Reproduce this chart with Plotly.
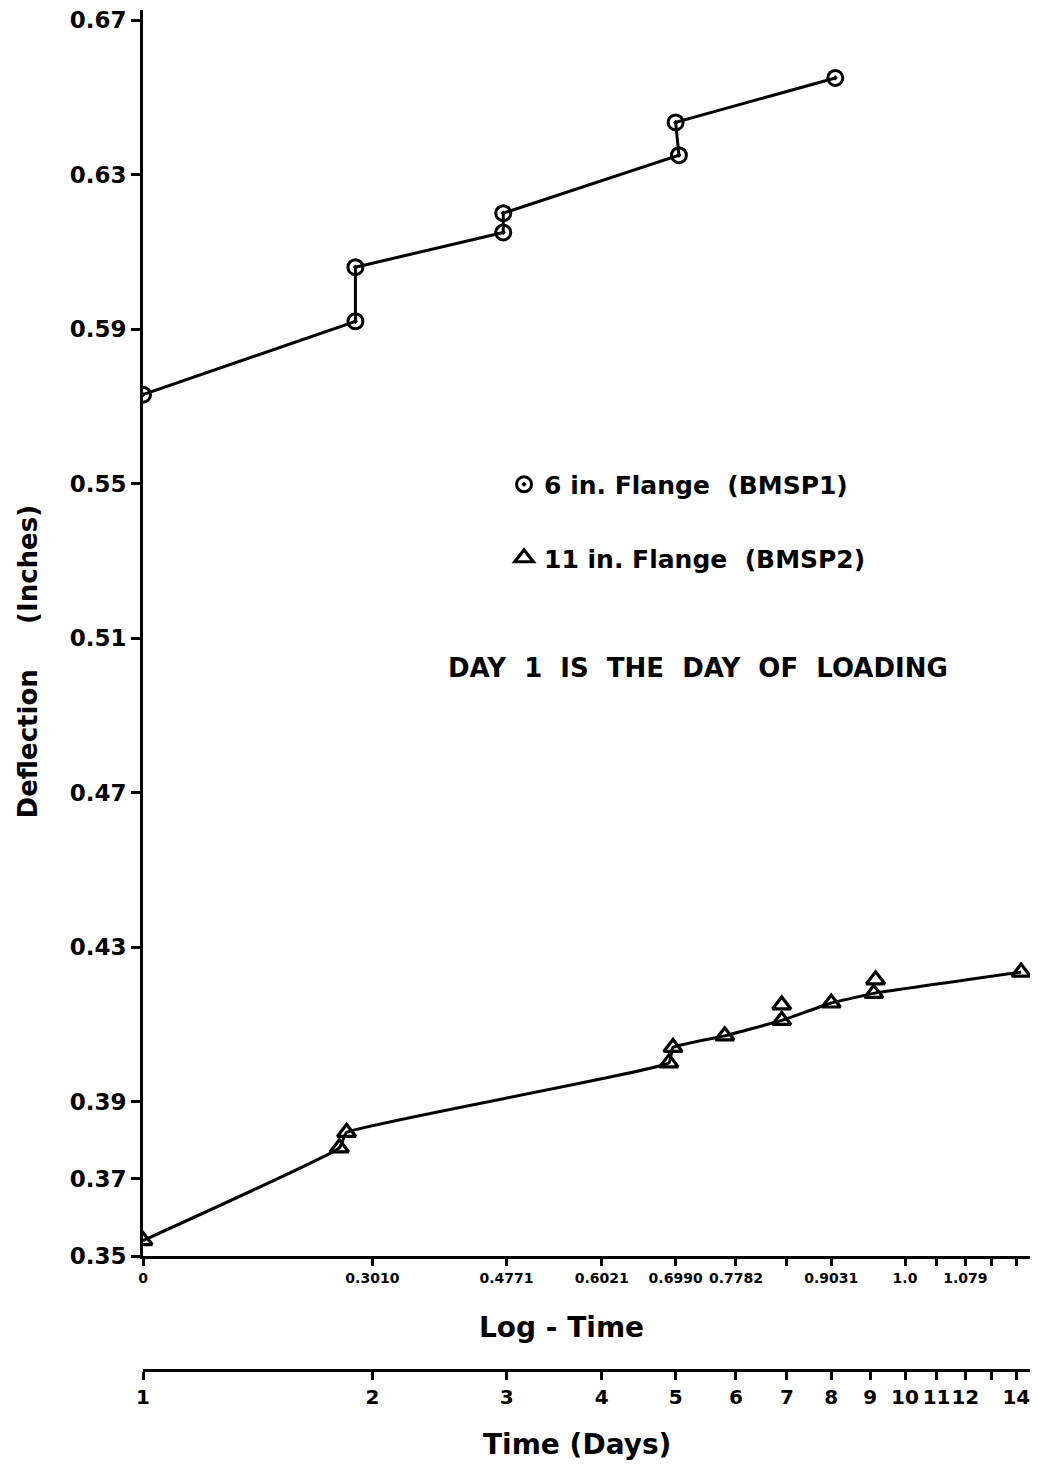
import plotly.graph_objects as go

# ---- data ----
# 6 in. Flange (BMSP1) - circles
bmsp1_days = [1.0, 1.90, 1.90, 2.97, 2.97, 5.05, 5.0, 8.1]
bmsp1_defl = [0.573, 0.592, 0.606, 0.615, 0.620, 0.635, 0.6435, 0.655]

# 11 in. Flange (BMSP2) - triangles
bmsp2_days = [1.0, 1.81, 1.85, 4.90, 4.96, 5.80, 6.89, 6.89, 8.0, 9.1, 9.15, 14.2]
bmsp2_defl = [0.354, 0.378, 0.382, 0.400, 0.404, 0.407, 0.411, 0.415, 0.4155, 0.418, 0.4215, 0.4235]
bmsp2_on_line = [1, 1, 1, 1, 1, 1, 1, 0, 1, 1, 0, 1]

# axis ticks
y_ticks = [0.35, 0.37, 0.39, 0.43, 0.47, 0.51, 0.55, 0.59, 0.63, 0.67]
log_tick_days = [1, 2, 3, 4, 5, 6, 7, 8, 10, 11, 12, 13, 14]
log_tick_text = ["0", "0.3010", "0.4771", "0.6021", "0.6990", "0.7782", "",
                 "0.9031", "1.0", "", "1.079", "", ""]
day_tick_days = [1, 2, 3, 4, 5, 6, 7, 8, 9, 10, 11, 12, 13, 14]
day_tick_text = ["1", "2", "3", "4", "5", "6", "7", "8", "9", "10", "11", "12", "", "14"]

FONT = "DejaVu Sans"
X_RANGE_LOG = [0, 1.1745]

fig = go.Figure()

# lines
fig.add_trace(go.Scatter(x=bmsp1_days, y=bmsp1_defl, mode="lines",
                         line=dict(color="black", width=3),
                         showlegend=False, hoverinfo="skip"))
l2x = [d for d, c in zip(bmsp2_days, bmsp2_on_line) if c]
l2y = [v for v, c in zip(bmsp2_defl, bmsp2_on_line) if c]
fig.add_trace(go.Scatter(x=l2x, y=l2y, mode="lines",
                         line=dict(color="black", width=3, shape="spline", smoothing=0.3),
                         showlegend=False, hoverinfo="skip"))

# markers
fig.add_trace(go.Scatter(x=bmsp1_days, y=bmsp1_defl, mode="markers",
                         name="6 in. Flange  (BMSP1)", legendgroup="a",
                         marker=dict(symbol="circle-open-dot", size=15, color="black",
                                     line=dict(width=3, color="black"))))
fig.add_trace(go.Scatter(x=bmsp2_days, y=bmsp2_defl, mode="markers",
                         name="11 in. Flange  (BMSP2)", legendgroup="b",
                         marker=dict(symbol="triangle-up-open", size=16, color="black",
                                     line=dict(width=3.2, color="black"))))

# dummy trace to attach the second (days) axis
fig.add_trace(go.Scatter(x=[day_tick_days[0], day_tick_days[-1]], y=[0.35, 0.35],
                         xaxis="x2", yaxis="y", mode="markers",
                         marker=dict(opacity=0), showlegend=False, hoverinfo="skip"))

# the page body has an 8 px margin, so the figure is 8 px smaller and shifted
fig.update_layout(
    width=1030, height=1458,
    margin=dict(l=135, r=0, t=2, b=96, autoexpand=False),
    plot_bgcolor="white", paper_bgcolor="white",
    font=dict(family=FONT, color="black", weight="bold"),
    showlegend=True,
    legend=dict(x=0.4034, y=0.668, xanchor="left", yanchor="top",
                font=dict(size=25, family=FONT, weight="bold"),
                traceorder="grouped", tracegroupgap=38,
                bgcolor="rgba(0,0,0,0)", itemwidth=30),
    xaxis=dict(type="log", range=X_RANGE_LOG, showgrid=False, zeroline=False,
               automargin=False, tickangle=0, ticklabeloverflow="allow",
               showline=True, linecolor="black", linewidth=3,
               ticks="outside", ticklen=7, tickwidth=2.5, tickcolor="black",
               tickvals=log_tick_days, ticktext=log_tick_text,
               tickfont=dict(size=14, family=FONT, weight="bold"),
               anchor="y"),
    xaxis2=dict(type="log", range=X_RANGE_LOG, overlaying="x", anchor="free",
                position=0, side="bottom", showgrid=False, zeroline=False,
                automargin=False, tickangle=0, ticklabeloverflow="allow",
                showline=True, linecolor="black", linewidth=3,
                ticks="outside", ticklen=8, tickwidth=2.5, tickcolor="black",
                tickvals=day_tick_days, ticktext=day_tick_text,
                tickfont=dict(size=20, family=FONT, weight="bold")),
    yaxis=dict(range=[0.35, 0.6726], domain=[(1370 - 1256) / 1360, 1],
               showgrid=False, zeroline=False, automargin=False,
               ticklabeloverflow="allow",
               showline=True, linecolor="black", linewidth=3,
               ticks="outside", ticklen=9, tickwidth=2.5, tickcolor="black",
               tickvals=y_ticks, ticktext=[f"{v:.2f}" for v in y_ticks],
               tickfont=dict(size=23, family=FONT, weight="bold")),
)

fig.add_annotation(text="Deflection     (Inches)", xref="paper", yref="paper",
                   x=-0.1285, y=0.521, textangle=-90, showarrow=False,
                   xanchor="center", yanchor="middle",
                   font=dict(size=26, family=FONT, weight="bold"))
fig.add_annotation(text="Log - Time", xref="paper", yref="paper",
                   x=0.468, y=0.0309, showarrow=False,
                   xanchor="center", yanchor="middle",
                   font=dict(size=28, family=FONT, weight="bold"))
fig.add_annotation(text="Time (Days)", xref="paper", yref="paper",
                   x=0.485, y=-0.0551, showarrow=False,
                   xanchor="center", yanchor="middle",
                   font=dict(size=28, family=FONT, weight="bold"))
fig.add_annotation(text="DAY  1  IS  THE  DAY  OF  LOADING", xref="paper", yref="paper",
                   x=0.620, y=0.516, showarrow=False,
                   xanchor="center", yanchor="middle",
                   font=dict(size=26, family=FONT, weight="bold"))

fig.write_html("out.html")
